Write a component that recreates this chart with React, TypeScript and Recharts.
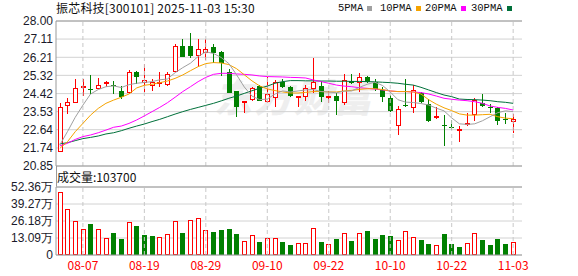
import React from "react";
import { ComposedChart, Bar, Line, XAxis, YAxis, CartesianGrid, ReferenceLine } from "recharts";

const dates = ["08-04","08-05","08-06","08-07","08-08","08-11","08-12","08-13","08-14","08-15","08-18","08-19","08-20","08-21","08-22","08-25","08-26","08-27","08-28","08-29","09-01","09-02","09-03","09-04","09-05","09-08","09-09","09-10","09-11","09-12","09-15","09-16","09-17","09-18","09-19","09-22","09-23","09-24","09-25","09-26","09-29","09-30","10-09","10-10","10-13","10-14","10-15","10-16","10-17","10-20","10-21","10-22","10-23","10-24","10-27","10-28","10-29","10-30","10-31","11-03"];

const opens = [21.56,23.79,23.94,24.73,24.65,24.66,24.89,24.85,24.55,24.46,25.50,24.96,24.79,24.93,24.83,25.50,26.77,26.77,26.29,26.44,26.70,26.47,25.50,24.53,23.94,24.10,24.81,24.02,24.19,25.01,24.76,24.28,24.27,24.63,24.79,24.25,24.30,23.94,25.04,24.93,25.22,24.98,24.60,24.19,22.84,23.84,23.70,24.43,23.89,23.25,22.88,22.78,22.61,22.86,23.36,23.94,23.76,23.72,23.17,23.03];
const highs = [23.97,24.22,25.13,25.13,25.34,25.20,25.06,25.04,24.79,25.58,25.55,25.89,25.15,25.47,25.47,26.85,27.10,27.39,27.10,27.10,26.87,26.52,25.62,24.53,24.07,24.76,24.86,25.22,25.09,25.13,24.81,24.31,24.83,26.16,25.04,24.55,24.46,25.39,25.39,25.45,25.29,25.15,24.76,24.35,23.81,25.13,24.83,24.48,24.14,23.74,23.36,23.12,22.82,23.48,24.19,24.40,23.91,23.77,23.45,23.41];
const lows = [21.53,23.40,23.94,24.30,24.40,24.66,24.76,24.40,24.17,24.39,24.88,24.51,24.53,24.76,24.81,25.50,26.24,26.16,25.75,26.08,25.91,25.29,24.43,23.28,23.45,24.06,24.07,23.94,23.74,24.68,24.27,23.77,24.06,24.46,24.02,23.97,23.35,23.84,24.89,24.48,24.93,24.55,24.02,23.53,22.38,23.74,23.45,23.94,23.03,23.18,21.84,22.63,22.05,22.82,23.08,23.74,23.48,22.87,22.92,22.49];
const closes = [23.75,23.99,24.68,24.81,24.62,24.83,24.98,24.82,24.27,25.47,25.22,25.09,24.99,25.01,25.39,26.77,26.24,26.27,26.60,26.60,26.44,25.91,24.46,23.74,24.07,24.71,24.07,24.40,25.01,24.76,24.30,24.31,24.68,24.99,24.27,24.28,24.07,25.09,24.96,25.25,25.01,24.63,24.27,23.58,23.65,23.82,24.60,24.02,23.08,23.31,22.85,22.75,22.69,22.96,24.10,23.82,23.74,23.08,23.15,23.17];

const ma5 = [21.89,22.55,23.25,23.85,24.40,24.62,24.76,24.80,24.72,24.86,24.93,24.97,25.01,25.10,25.14,25.45,25.70,25.92,26.25,26.48,26.40,26.20,25.90,25.35,24.75,24.30,24.12,24.15,24.40,24.55,24.50,24.55,24.60,24.62,24.52,24.50,24.46,24.54,24.55,24.73,24.88,24.98,24.82,24.50,24.12,24.00,23.98,23.93,23.86,23.70,23.57,23.22,22.93,22.90,22.93,23.08,23.28,23.48,23.57,23.53];
const ma10 = [21.72,22.05,22.54,22.95,23.36,23.69,23.94,24.10,24.24,24.40,24.70,24.83,24.88,24.96,25.04,25.17,25.34,25.55,25.75,25.90,25.95,25.93,25.85,25.65,25.35,25.05,24.80,24.65,24.57,24.50,24.45,24.45,24.48,24.52,24.52,24.50,24.50,24.55,24.58,24.63,24.66,24.66,24.62,24.55,24.52,24.52,24.50,24.40,24.12,23.90,23.72,23.58,23.42,23.36,23.36,23.38,23.40,23.28,23.21,23.18];
const ma20 = [21.84,21.97,22.16,22.30,22.38,22.49,22.62,22.76,22.82,22.95,23.12,23.32,23.53,23.74,23.97,24.24,24.52,24.76,25.01,25.22,25.37,25.42,25.42,25.39,25.37,25.34,25.29,25.26,25.25,25.24,25.22,25.21,25.19,25.09,25.01,24.93,24.84,24.79,24.76,24.71,24.68,24.64,24.60,24.55,24.52,24.52,24.50,24.47,24.40,24.30,24.19,24.14,24.10,24.07,24.02,23.94,23.81,23.74,23.69,23.61];
const ma30 = [21.94,22.00,22.10,22.20,22.26,22.33,22.43,22.49,22.59,22.71,22.82,22.92,23.04,23.15,23.28,23.41,23.53,23.64,23.74,23.84,23.94,24.06,24.19,24.30,24.43,24.56,24.68,24.79,24.93,25.01,25.06,25.06,25.05,25.05,25.04,25.04,25.03,25.03,25.02,25.02,25.01,25.00,24.98,24.96,24.93,24.88,24.84,24.73,24.60,24.47,24.35,24.27,24.15,24.13,24.12,24.10,24.07,24.02,23.99,23.94];

// volume in 万 (10k)
const volumes = [48.7,35.2,26.4,19.8,23.9,19.8,12.8,16.9,12.3,25.4,22.3,15.4,14.6,13.6,16.2,25.9,17.2,26.9,28.2,19.2,17.9,19.2,20.0,16.2,10.8,15.1,10.3,12.8,12.8,10.0,7.7,9.0,9.0,20.5,10.0,8.2,12.3,16.7,10.8,16.7,18.5,12.3,15.4,14.6,11.6,18.5,13.6,11.6,8.5,7.7,16.2,8.5,6.2,9.0,16.7,11.6,7.7,12.3,8.5,10.37];
const volUp = [1,1,1,1,0,1,1,0,0,1,0,0,0,1,1,1,0,1,1,1,0,0,0,0,1,1,0,1,1,0,0,1,1,1,0,1,0,1,0,1,0,0,0,0,1,1,1,0,0,1,0,0,0,1,1,0,0,0,0,1];

const priceTicks = [20.85, 21.74, 22.64, 23.53, 24.42, 25.32, 26.21, 27.11, 28.0];
const volTicks = [0, 13.09, 26.18, 39.27, 52.36];
const dateTicks = ["08-07","08-19","08-29","09-10","09-22","10-10","10-22","11-03"];
const legendItems = [
  { name: "5PMA", color: "#a0a0a0" },
  { name: "10PMA", color: "#f5a300" },
  { name: "20PMA", color: "#ff00ff" },
  { name: "30PMA", color: "#00703a" },
];
const title = "振芯科技[300101] 2025-11-03 15:30";
const volTitle = "成交量:103700";

const RED = "#ff0000";
const GREEN = "#008000";
const FRAME = "#9a9a9a";
const GRID = "#d2d2d2";
const CJK = "'Noto Sans CJK SC', 'Noto Sans', sans-serif";
const NUMF = "'Liberation Sans', Arial, sans-serif";

const data = dates.map((d, i) => ({
  date: d,
  open: opens[i],
  high: highs[i],
  low: lows[i],
  close: closes[i],
  range: [lows[i], highs[i]],
  vol: volumes[i],
  up: volUp[i],
  ma5: ma5[i],
  ma10: ma10[i],
  ma20: ma20[i],
  ma30: ma30[i],
}));

const Candle = (props: any) => {
  const { x, y, width, height, payload } = props;
  if (x == null || y == null) return null;
  const { open, close, high, low } = payload;
  const yTop = Math.min(y, y + height);
  const yBot = Math.max(y, y + height);
  const h = yBot - yTop;
  const sc = (v: number) => (high === low ? yTop : yTop + ((high - v) / (high - low)) * h);
  const cx = Math.round(x + width / 2) + 0.5;
  const yo = sc(open);
  const yc = sc(close);
  const up = close >= open;
  const bTop = Math.round(Math.min(yo, yc));
  const bBot = Math.max(bTop + 1, Math.round(Math.max(yo, yc)));
  const hi = Math.round(yTop);
  const lo = Math.round(yBot);
  if (up) {
    return (
      <g>
        <line x1={cx} x2={cx} y1={hi} y2={bTop} stroke={RED} strokeWidth={1} />
        <line x1={cx} x2={cx} y1={bBot} y2={lo} stroke={RED} strokeWidth={1} />
        <rect x={cx - 2} y={bTop + 0.5} width={4} height={Math.max(1, bBot - bTop - 1)} fill="#fff" stroke={RED} strokeWidth={1} />
      </g>
    );
  }
  return (
    <g>
      <line x1={cx} x2={cx} y1={hi} y2={lo} stroke={GREEN} strokeWidth={1} />
      <rect x={cx - 2.5} y={bTop} width={5} height={Math.max(1, bBot - bTop)} fill={GREEN} />
    </g>
  );
};

const VolBar = (props: any) => {
  const { x, y, width, height, payload } = props;
  if (x == null || y == null) return null;
  const cx = Math.round(x + width / 2) + 0.5;
  const top = Math.round(y);
  const bot = Math.round(y + height);
  if (payload.up) {
    return <rect x={cx - 2} y={top + 0.5} width={4} height={Math.max(1, bot - top - 1)} fill="#fff" stroke={RED} strokeWidth={1} />;
  }
  return <rect x={cx - 2.5} y={top} width={5} height={Math.max(1, bot - top)} fill={GREEN} />;
};

export default function App() {
  return (
    <div style={{ position: "absolute", left: 0, top: 0, width: 578, height: 276, background: "#fff", overflow: "hidden" }}>
      <div style={{ position: "absolute", left: 214, top: 74, fontFamily: CJK, fontWeight: 900, fontSize: 38, color: "#eeeeee", letterSpacing: 2, lineHeight: "44px", fontStyle: "italic" }}>
        东方财富
      </div>
      <div style={{ position: "absolute", left: 56, top: 1, fontFamily: CJK, fontSize: 12, lineHeight: "14px", color: "#111", whiteSpace: "nowrap", letterSpacing: 0.2 }}>
        {title}
      </div>
      {legendItems.map((it, k) => (
        <div key={it.name} style={{ position: "absolute", left: [338, 380, 425, 471][k], top: 2, display: "flex", alignItems: "center", fontFamily: "'Liberation Mono', monospace", fontSize: 10.5, lineHeight: "12px", color: "#111", whiteSpace: "nowrap" }}>
          <span>{it.name}</span>
          <span style={{ display: "inline-block", width: 5, height: 5, background: it.color, marginLeft: 4 }} />
        </div>
      ))}
      <div style={{ position: "absolute", left: 0, top: 0 }}>
        <ComposedChart width={578} height={180} data={data} margin={{ top: 21, right: 56, bottom: 14, left: 0 }}>
          <CartesianGrid vertical={false} stroke={GRID} />
          <XAxis dataKey="date" hide padding={{ left: 0, right: 5 }} />
          <YAxis
            domain={[20.85, 28]}
            ticks={priceTicks}
            interval={0}
            allowDataOverflow
            width={56}
            axisLine={{ stroke: FRAME }}
            tickLine={false}
            tickSize={1}
            tickMargin={2}
            tick={{ fontSize: 12, fill: "#1a1a2a", fontFamily: NUMF }}
            tickFormatter={(v: number) => v.toFixed(2)}
          />
          <YAxis yAxisId="r" orientation="right" width={0} tick={false} tickLine={false} axisLine={{ stroke: FRAME }} />
          {dateTicks.map((d) => (
            <ReferenceLine key={d} x={d} stroke="#c8c8c8" strokeDasharray="4 3" />
          ))}
          <ReferenceLine y={28} stroke={FRAME} />
          <ReferenceLine y={20.85} stroke={FRAME} />
          <Line dataKey="ma30" stroke="#00703a" strokeWidth={1} dot={false} isAnimationActive={false} />
          <Line dataKey="ma20" stroke="#ff00ff" strokeWidth={1} dot={false} isAnimationActive={false} />
          <Line dataKey="ma10" stroke="#f5a300" strokeWidth={1} dot={false} isAnimationActive={false} />
          <Line dataKey="ma5" stroke="#a0a0a0" strokeWidth={1} dot={false} isAnimationActive={false} />
          <Bar dataKey="range" barSize={5} shape={<Candle />} isAnimationActive={false} />
        </ComposedChart>
      </div>
      <div style={{ position: "absolute", left: 56, top: 166, width: 1, height: 21, background: FRAME }} />
      <div style={{ position: "absolute", left: 57, top: 170, fontFamily: CJK, fontSize: 12, lineHeight: "14px", color: "#111", whiteSpace: "nowrap" }}>
        {volTitle}
      </div>
      <div style={{ position: "absolute", left: 0, top: 170 }}>
        <ComposedChart width={578} height={106} data={data} margin={{ top: 17, right: 56, bottom: 0, left: 0 }}>
          <CartesianGrid vertical={false} stroke={GRID} />
          <XAxis
            dataKey="date"
            ticks={dateTicks}
            interval={0}
            height={21}
            padding={{ left: 0, right: 5 }}
            tickLine={false}
            tickSize={4}
            tickMargin={2}
            axisLine={{ stroke: FRAME }}
            tick={{ fontSize: 12, fill: RED, fontFamily: CJK }}
          />
          <YAxis
            domain={[0, 52.36]}
            ticks={volTicks}
            interval={0}
            allowDataOverflow
            width={56}
            axisLine={{ stroke: FRAME }}
            tickLine={false}
            tickSize={1}
            tickMargin={2}
            tick={{ fontSize: 12, fill: "#1a1a2a", fontFamily: NUMF }}
            tickFormatter={(v: number) => (v === 0 ? "0" : v.toFixed(2) + "万")}
          />
          <YAxis yAxisId="r" orientation="right" width={0} tick={false} tickLine={false} axisLine={{ stroke: FRAME }} />
          {dateTicks.map((d) => (
            <ReferenceLine key={d} x={d} stroke="#c8c8c8" strokeDasharray="4 3" />
          ))}
          <ReferenceLine y={52.36} stroke={FRAME} />
          <Bar dataKey="vol" barSize={5} shape={<VolBar />} isAnimationActive={false} />
        </ComposedChart>
      </div>
    </div>
  );
}
